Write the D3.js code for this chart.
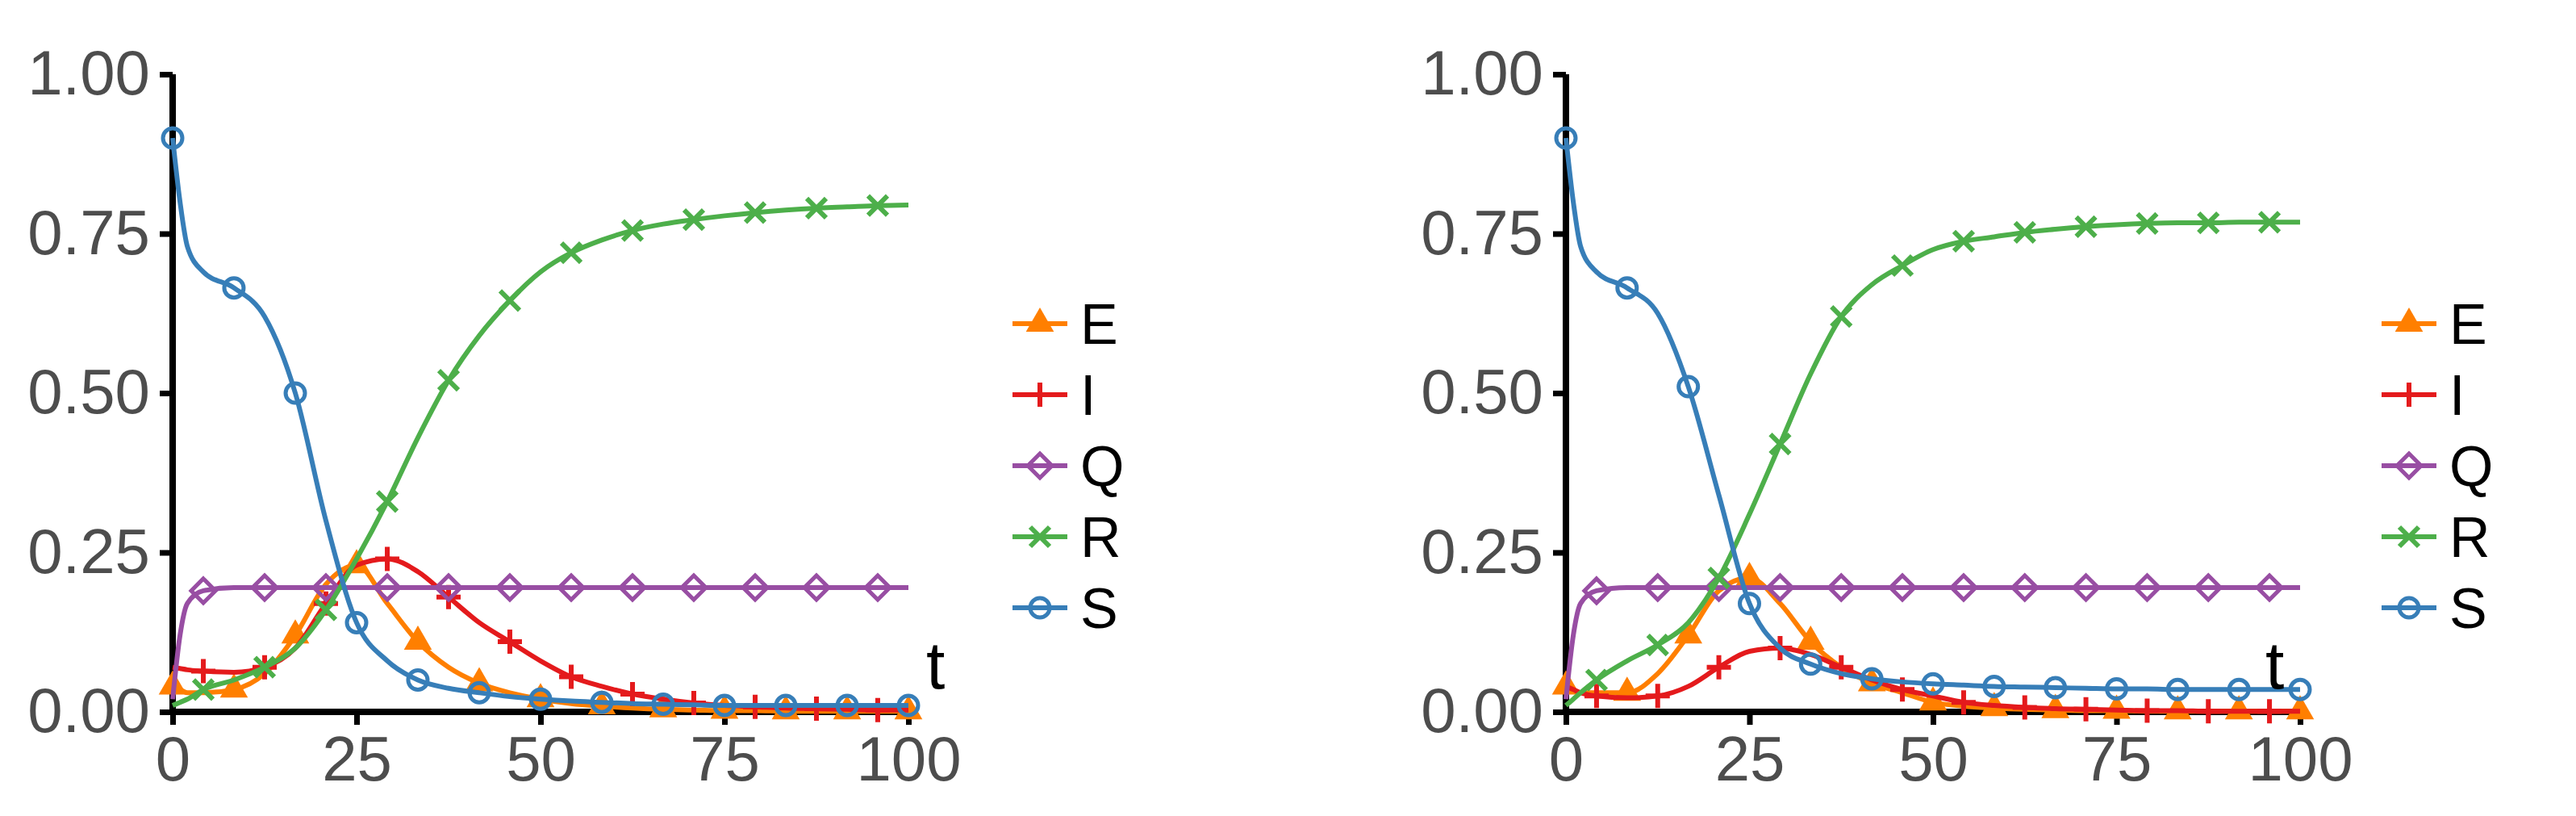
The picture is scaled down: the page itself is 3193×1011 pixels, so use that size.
<!DOCTYPE html><html><head><meta charset="utf-8"><script src="https://cdn.jsdelivr.net/npm/d3@7"></script>
<style>body{margin:0;background:#fff}</style></head><body><svg id="c" width="3193" height="1011"></svg><script>
const T=[0,1,2,4.17,8.33,12.5,16.67,20.83,25,29.17,33.33,37.5,41.67,45.83,50,54.17,58.33,62.5,66.67,70.83,75,79.17,83.33,87.5,91.67,95.83,100];
const seriesNames=["E","I","Q","R","S"];
const colors={E:"#FF7F00",I:"#E41A1C",Q:"#984EA3",R:"#4DAF4A",S:"#377EB8"};
const xTicks=[0,25,50,75,100], yTicks=[0,0.25,0.5,0.75,1];
const left={
S:[0.9,0.80,0.73,0.69,0.665,0.62,0.50,0.30,0.14,0.08,0.05,0.037,0.03,0.024,0.02,0.017,0.015,0.013,0.012,0.011,0.01,0.01,0.01,0.01,0.01,0.01,0.01],
E:[0.04,0.035,0.03,0.03,0.035,0.06,0.12,0.20,0.23,0.17,0.11,0.07,0.045,0.03,0.02,0.013,0.009,0.006,0.004,0.003,0.002,0.002,0.001,0.001,0.001,0.001,0.001],
I:[0.07,0.068,0.066,0.064,0.062,0.07,0.10,0.17,0.23,0.24,0.22,0.18,0.14,0.11,0.08,0.055,0.04,0.028,0.02,0.014,0.01,0.008,0.006,0.005,0.004,0.003,0.003],
Q:[0.02,0.12,0.17,0.19,0.195,0.195,0.195,0.195,0.195,0.195,0.195,0.195,0.195,0.195,0.195,0.195,0.195,0.195,0.195,0.195,0.195,0.195,0.195,0.195,0.195,0.195,0.195],
R:[0.01,0.015,0.02,0.035,0.05,0.07,0.10,0.16,0.24,0.33,0.43,0.52,0.59,0.645,0.69,0.72,0.74,0.755,0.765,0.772,0.778,0.783,0.787,0.79,0.792,0.794,0.795]};
const right={
S:[0.9,0.80,0.73,0.69,0.665,0.625,0.51,0.34,0.17,0.10,0.075,0.06,0.052,0.047,0.044,0.042,0.04,0.039,0.038,0.037,0.036,0.036,0.035,0.035,0.035,0.035,0.035],
E:[0.04,0.035,0.03,0.03,0.03,0.06,0.12,0.19,0.21,0.17,0.11,0.07,0.045,0.03,0.015,0.009,0.006,0.004,0.003,0.002,0.002,0.001,0.001,0.001,0.001,0.001,0.001],
I:[0.04,0.035,0.03,0.025,0.022,0.025,0.04,0.07,0.095,0.1,0.09,0.07,0.05,0.035,0.025,0.015,0.01,0.007,0.005,0.004,0.003,0.002,0.002,0.001,0.001,0.001,0.001],
Q:[0.02,0.12,0.17,0.19,0.195,0.195,0.195,0.195,0.195,0.195,0.195,0.195,0.195,0.195,0.195,0.195,0.195,0.195,0.195,0.195,0.195,0.195,0.195,0.195,0.195,0.195,0.195],
R:[0.01,0.02,0.03,0.05,0.08,0.105,0.14,0.21,0.31,0.42,0.53,0.62,0.67,0.70,0.725,0.738,0.745,0.752,0.757,0.761,0.764,0.766,0.767,0.767,0.768,0.768,0.768]};
const markerParity={S:0,E:0,I:1,Q:1,R:1};
const svg=d3.select("#c");
const font="Liberation Sans, Arial, sans-serif";
function sym(g,name,x,y){
  const c=colors[name],s=15;
  if(name==="E") g.append("path").attr("d",d3.symbol(d3.symbolTriangle,520)()).attr("transform",`translate(${x},${y})`).attr("fill",c);
  else if(name==="I") g.append("path").attr("d",`M${x-s},${y}H${x+s}M${x},${y-s}V${y+s}`).attr("stroke",c).attr("stroke-width",6);
  else if(name==="Q") g.append("path").attr("d",`M${x},${y-s}L${x+s},${y}L${x},${y+s}L${x-s},${y}Z`).attr("stroke",c).attr("stroke-width",5).attr("fill","none");
  else if(name==="R") g.append("path").attr("d",`M${x-s*0.8},${y-s*0.8}L${x+s*0.8},${y+s*0.8}M${x-s*0.8},${y+s*0.8}L${x+s*0.8},${y-s*0.8}`).attr("stroke",c).attr("stroke-width",6);
  else g.append("circle").attr("cx",x).attr("cy",y).attr("r",12).attr("stroke",c).attr("stroke-width",5).attr("fill","none");
}
function panel(data,x0,x1,legX,tX){
  const x=d3.scaleLinear().domain([0,100]).range([x0,x1]);
  const y=d3.scaleLinear().domain([0,1]).range([882,92]);
  const g=svg.append("g");
  const ax=g.append("g").attr("transform","translate(0,882)").call(d3.axisBottom(x).tickValues(xTicks).tickSize(16).tickPadding(14));
  const ay=g.append("g").attr("transform",`translate(${x0},0)`).call(d3.axisLeft(y).tickValues(yTicks).tickFormat(d3.format(".2f")).tickSize(16).tickPadding(12));
  [ax,ay].forEach(a=>{a.select(".domain").attr("stroke","#000").attr("stroke-width",8);
    a.selectAll(".tick line").attr("stroke","#000").attr("stroke-width",7);
    a.selectAll("text").attr("font-family",font).attr("font-size",78).attr("fill","#4d4d4d");});
  ay.select(".domain").attr("d",`M0,${y(1)}V${y(0)}`);
  ax.select(".domain").attr("d",`M${x0},0H${x1}`);
  const line=d3.line().x((d,i)=>x(T[i])).y(d=>y(d)).curve(d3.curveMonotoneX);
  seriesNames.forEach(n=>{
    g.append("path").attr("d",line(data[n])).attr("fill","none").attr("stroke",colors[n]).attr("stroke-width",6);
    data[n].forEach((v,i)=>{ if(i<3&&!(i===0&&markerParity[n]===0))return; const k=i-2; if(i===0||k%2===(markerParity[n]?1:0)) sym(g,n,x(T[i]),y(v)); });
  });
  g.append("text").attr("x",tX).attr("y",853).attr("font-family",font).attr("font-size",84).text("t");
  seriesNames.forEach((n,i)=>{const yy=401+i*88;
    g.append("line").attr("x1",legX-34).attr("x2",legX+34).attr("y1",yy).attr("y2",yy).attr("stroke",colors[n]).attr("stroke-width",6);
    sym(g,n,legX,yy);
    g.append("text").attr("x",legX+50).attr("y",yy+25).attr("font-family",font).attr("font-size",70).attr("fill","#000").text(n);});
}
panel(left,214,1126,1289,1148);
panel(right,1941,2851,2986,2808);
</script></body></html>
